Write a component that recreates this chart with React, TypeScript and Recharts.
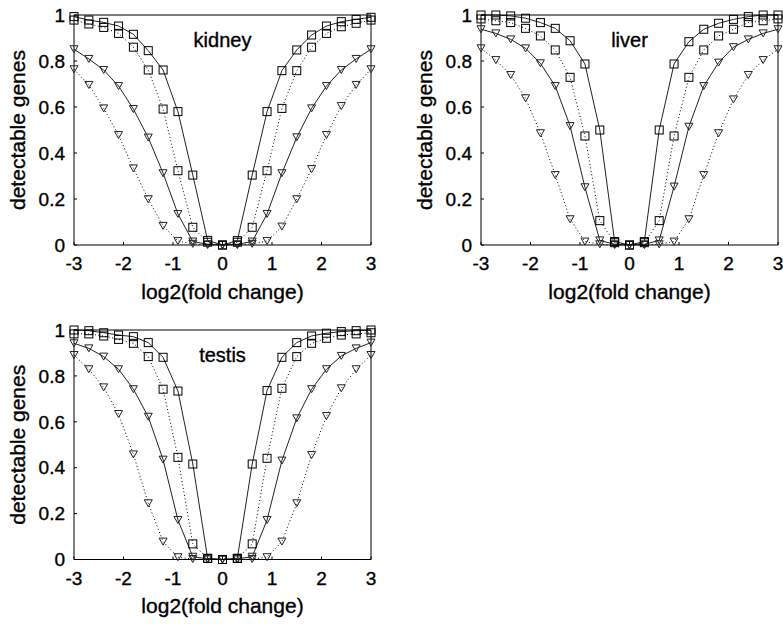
import React from 'react';
import { LineChart, Line, XAxis, YAxis, ReferenceDot } from 'recharts';

const FOLD_CHANGE = [-3, -2.7, -2.4, -2.1, -1.8, -1.5, -1.2, -0.9, -0.6, -0.3, 0, 0.3, 0.6, 0.9, 1.2, 1.5, 1.8, 2.1, 2.4, 2.7, 3];
const X_TICKS = [-3, -2, -1, 0, 1, 2, 3];
const Y_TICKS = [0, 0.2, 0.4, 0.6, 0.8, 1];

// kidney
const KIDNEY_SQ_SOLID = [0.993, 0.978, 0.968, 0.952, 0.916, 0.845, 0.761, 0.58, 0.304, 0.02, 0.0, 0.019, 0.304, 0.58, 0.758, 0.848, 0.913, 0.952, 0.971, 0.981, 0.99];
const KIDNEY_SQ_DOTTED = [0.978, 0.961, 0.946, 0.92, 0.86, 0.761, 0.591, 0.323, 0.077, 0.012, 0.0, 0.012, 0.077, 0.323, 0.594, 0.758, 0.86, 0.92, 0.949, 0.964, 0.978];
const KIDNEY_TR_SOLID = [0.851, 0.809, 0.761, 0.691, 0.591, 0.467, 0.312, 0.135, 0.015, 0.003, 0.0, 0.003, 0.015, 0.135, 0.312, 0.468, 0.594, 0.691, 0.761, 0.809, 0.851];
const KIDNEY_TR_DOTTED = [0.764, 0.696, 0.594, 0.478, 0.333, 0.199, 0.083, 0.017, 0.005, 0.0, 0.0, 0.0, 0.005, 0.017, 0.08, 0.199, 0.33, 0.478, 0.604, 0.696, 0.764];

// liver
const LIVER_SQ_SOLID = [1.0, 1.0, 0.996, 0.986, 0.967, 0.942, 0.888, 0.787, 0.5, 0.015, 0.0, 0.015, 0.5, 0.787, 0.884, 0.938, 0.964, 0.981, 0.993, 1.0, 1.0];
const LIVER_SQ_DOTTED = [0.983, 0.975, 0.967, 0.942, 0.909, 0.848, 0.729, 0.474, 0.106, 0.01, 0.0, 0.01, 0.106, 0.474, 0.729, 0.848, 0.909, 0.938, 0.967, 0.975, 0.983];
const LIVER_TR_SOLID = [0.938, 0.92, 0.894, 0.855, 0.79, 0.691, 0.517, 0.251, 0.02, 0.003, 0.0, 0.003, 0.02, 0.254, 0.514, 0.691, 0.793, 0.86, 0.894, 0.92, 0.938];
const LIVER_TR_DOTTED = [0.855, 0.804, 0.739, 0.638, 0.486, 0.304, 0.112, 0.015, 0.003, 0.0, 0.0, 0.0, 0.003, 0.015, 0.112, 0.304, 0.486, 0.633, 0.739, 0.804, 0.851];

// testis
const TESTIS_SQ_SOLID = [1.0, 0.997, 0.988, 0.978, 0.971, 0.945, 0.881, 0.734, 0.416, 0.005, 0.0, 0.005, 0.416, 0.736, 0.881, 0.945, 0.974, 0.986, 0.993, 0.997, 1.0];
const TESTIS_SQ_DOTTED = [0.983, 0.983, 0.974, 0.959, 0.942, 0.884, 0.742, 0.445, 0.068, 0.005, 0.0, 0.005, 0.068, 0.441, 0.746, 0.884, 0.942, 0.964, 0.978, 0.983, 0.988];
const TESTIS_TR_SOLID = [0.942, 0.92, 0.884, 0.829, 0.742, 0.622, 0.435, 0.172, 0.012, 0.003, 0.0, 0.003, 0.012, 0.172, 0.431, 0.615, 0.742, 0.829, 0.887, 0.92, 0.945];
const TESTIS_TR_DOTTED = [0.891, 0.829, 0.75, 0.634, 0.458, 0.245, 0.078, 0.01, 0.002, 0.0, 0.0, 0.0, 0.002, 0.01, 0.078, 0.245, 0.455, 0.625, 0.746, 0.829, 0.891];

const FONT = '"Liberation Sans", Arial, Helvetica, sans-serif';
const TITLE_Y = 0.89;
const TEXT_STROKE = { stroke: '#000', strokeWidth: 0.35 };

const renderSquare = (p: any) => {
  if (p.cx == null || p.cy == null) return <g key={`sq-${p.dataKey}-${p.index}`} />;
  return (
    <rect
      key={`sq-${p.dataKey}-${p.index}`}
      x={p.cx - 4}
      y={p.cy - 4}
      width={8}
      height={8}
      fill="none"
      stroke="#000"
      strokeWidth={1}
    />
  );
};

const renderTriangle = (p: any) => {
  if (p.cx == null || p.cy == null) return <g key={`tr-${p.dataKey}-${p.index}`} />;
  const { cx, cy } = p;
  return (
    <path
      key={`tr-${p.dataKey}-${p.index}`}
      d={`M${cx - 4},${cy - 3.5}L${cx + 4},${cy - 3.5}L${cx},${cy + 3.5}Z`}
      fill="none"
      stroke="#222"
      strokeWidth={1}
    />
  );
};

type PanelProps = {
  title: string;
  sqSolid: number[];
  sqDotted: number[];
  trSolid: number[];
  trDotted: number[];
  left: number;
  top: number;
  width: number;
  height: number;
  marginTop: number;
  marginRight: number;
  xAxisHeight: number;
};

function Panel(props: PanelProps) {
  const data = FOLD_CHANGE.map((x, i) => ({
    x,
    sqSolid: props.sqSolid[i],
    sqDotted: props.sqDotted[i],
    trSolid: props.trSolid[i],
    trDotted: props.trDotted[i],
  }));
  const tickStyle = { fill: '#000', fontSize: 19, fontFamily: FONT, ...TEXT_STROKE };
  return (
    <div style={{ position: 'absolute', left: props.left, top: props.top }}>
      <LineChart
        width={props.width}
        height={props.height}
        data={data}
        margin={{ top: props.marginTop, right: props.marginRight, bottom: 0, left: 0 }}
      >
        <XAxis
          xAxisId="b"
          dataKey="x"
          type="number"
          domain={[-3, 3]}
          ticks={X_TICKS}
          interval={0}
          orientation="bottom"
          height={props.xAxisHeight}
          tickSize={-3}
          tickMargin={15}
          stroke="#000"
          tick={tickStyle}
          label={{
            value: 'log2(fold change)',
            position: 'insideBottom',
            offset: 11,
            fill: '#000',
            fontSize: 21,
            fontFamily: FONT,
            ...TEXT_STROKE,
          }}
        />
        <XAxis
          xAxisId="t"
          dataKey="x"
          type="number"
          domain={[-3, 3]}
          ticks={X_TICKS}
          interval={0}
          orientation="top"
          height={1}
          tickSize={-3}
          tick={false}
          stroke="#000"
        />
        <YAxis
          yAxisId="l"
          type="number"
          domain={[0, 1]}
          ticks={Y_TICKS}
          interval={0}
          width={74}
          tickSize={-3}
          tickMargin={12}
          stroke="#000"
          tick={tickStyle}
          label={{
            value: 'detectable genes',
            angle: -90,
            position: 'insideLeft',
            offset: 17.5,
            fill: '#000',
            fontSize: 21,
            fontFamily: FONT,
            ...TEXT_STROKE,
            style: { textAnchor: 'middle' },
          }}
        />
        <YAxis
          yAxisId="r"
          orientation="right"
          type="number"
          domain={[0, 1]}
          ticks={Y_TICKS}
          interval={0}
          width={1}
          tickSize={-3}
          tick={false}
          stroke="#000"
        />
        <Line xAxisId="t" yAxisId="r" type="linear" dataKey="sqSolid" stroke="none" dot={false} activeDot={false} isAnimationActive={false} />
        <Line xAxisId="b" yAxisId="l" type="linear" dataKey="trDotted" stroke="#000" strokeWidth={1} strokeDasharray="1 2.5" dot={renderTriangle} activeDot={false} isAnimationActive={false} />
        <Line xAxisId="b" yAxisId="l" type="linear" dataKey="sqDotted" stroke="#000" strokeWidth={1} strokeDasharray="1 2.5" dot={renderSquare} activeDot={false} isAnimationActive={false} />
        <Line xAxisId="b" yAxisId="l" type="linear" dataKey="trSolid" stroke="#222" strokeWidth={1} dot={renderTriangle} activeDot={false} isAnimationActive={false} />
        <Line xAxisId="b" yAxisId="l" type="linear" dataKey="sqSolid" stroke="#222" strokeWidth={1} dot={renderSquare} activeDot={false} isAnimationActive={false} />
        <ReferenceDot
          xAxisId="b"
          yAxisId="l"
          x={0}
          y={TITLE_Y}
          r={0}
          fill="none"
          stroke="none"
          label={{ value: props.title, position: 'center', fill: '#000', fontSize: 20, fontFamily: FONT, ...TEXT_STROKE }}
        />
      </LineChart>
    </div>
  );
}

export default function App() {
  return (
    <div style={{ position: 'absolute', left: 0, top: 0, width: 783, height: 624, background: '#fff', overflow: 'hidden' }}>
      <Panel
        title="kidney"
        sqSolid={KIDNEY_SQ_SOLID}
        sqDotted={KIDNEY_SQ_DOTTED}
        trSolid={KIDNEY_TR_SOLID}
        trDotted={KIDNEY_TR_DOTTED}
        left={0}
        top={0}
        width={391}
        height={310}
        marginTop={14}
        marginRight={19}
        xAxisHeight={65}
      />
      <Panel
        title="liver"
        sqSolid={LIVER_SQ_SOLID}
        sqDotted={LIVER_SQ_DOTTED}
        trSolid={LIVER_TR_SOLID}
        trDotted={LIVER_TR_DOTTED}
        left={407}
        top={0}
        width={376}
        height={310}
        marginTop={14}
        marginRight={4}
        xAxisHeight={65}
      />
      <Panel
        title="testis"
        sqSolid={TESTIS_SQ_SOLID}
        sqDotted={TESTIS_SQ_DOTTED}
        trSolid={TESTIS_TR_SOLID}
        trDotted={TESTIS_TR_DOTTED}
        left={0}
        top={315}
        width={391}
        height={309}
        marginTop={14}
        marginRight={19}
        xAxisHeight={64.5}
      />
    </div>
  );
}
